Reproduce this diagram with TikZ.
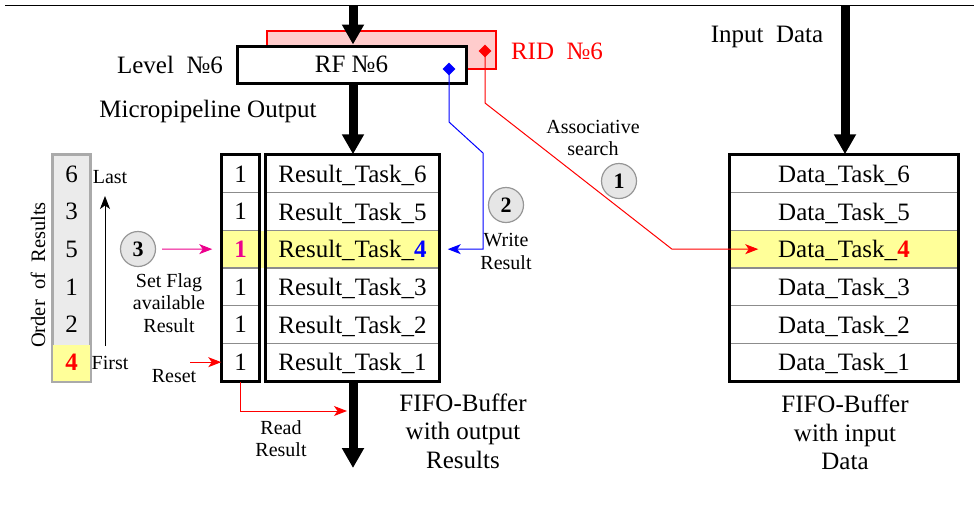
\documentclass[tikz,border=0pt]{standalone}
\usepackage{fontspec}
\setmainfont{Liberation Serif}
\usetikzlibrary{arrows.meta,shapes.geometric,calc}
\definecolor{hlyellow}{RGB}{255,255,153}
\definecolor{ridfill}{RGB}{255,204,204}
\definecolor{cgray}{RGB}{230,230,230}
\definecolor{cborder}{RGB}{150,150,150}
\definecolor{sepgray}{RGB}{140,140,140}
\definecolor{ordfill}{RGB}{235,235,235}
\definecolor{ordborder}{RGB}{170,170,170}
\begin{document}
\begin{tikzpicture}[x=1pt,y=-1pt,
  font=\fontsize{25}{29}\selectfont,
  oneline/.style={text depth=0pt},
  small/.style={font=\fontsize{20}{22.5}\selectfont, align=center},
  captext/.style={font=\fontsize{25}{28.5}\selectfont, align=center},
  cellbase/.style={draw=sepgray, line width=1.5pt, minimum height=37.67pt, inner sep=0pt, text depth=0pt},
  fcell/.style={cellbase, minimum width=37pt},
  rcell/.style={cellbase, minimum width=173pt},
  dcell/.style={cellbase, minimum width=228pt},
  outer/.style={draw=black, line width=3pt},
  bigarrow/.style={line width=9pt, -{Triangle[width=21pt,length=20pt]}},
  thinarrow/.style={line width=1pt, -{Stealth[length=13pt,width=10pt,inset=3.5pt]}},
  circ/.style={circle, draw=cborder, fill=cgray, line width=1.2pt, minimum size=35pt, inner sep=0pt, font=\fontsize{22}{24}\selectfont\bfseries},
  dmd/.style={diamond, minimum size=13pt, inner sep=0pt}
]
\useasboundingbox (0,0) rectangle (975,515);

% top line
\draw[line width=1pt] (5,5) -- (974,5);

% RID and RF boxes
\node[draw=red, line width=2pt, fill=ridfill, minimum width=229pt, minimum height=38pt] (rid) at (381.5,50) {};
\node[outer, oneline, fill=white, minimum width=229pt, minimum height=37pt] (rf) at (351.5,64.5) {RF №6};
\node[dmd, fill=red] (rd) at (485,51) {};
\node[dmd, fill=blue] (bd) at (449,69) {};
\node[oneline, text=red] (ridt) at (557,51) {RID~~№6};
\node[oneline] (lvl) at (170,65) {Level~~№6};
\node[oneline] (mpo) at (208,109) {Micropipeline Output};
\node[oneline] (ind) at (767,34) {Input~~Data};

% result FIFO
\foreach \i/\y in {6/173.83,5/211.5,3/286.83,2/324.5,1/362.17}{
  \node[fcell] (f\i) at (240.5,\y) {1};
  \node[rcell] (r\i) at (352.5,\y) {Result\_Task\_\i};
  \node[dcell] (d\i) at (844,\y) {Data\_Task\_\i};
}
\fill[hlyellow] (222,230.5) rectangle (266,268);
\node[fcell, fill=hlyellow, text=magenta, font=\fontsize{25}{29}\selectfont\bfseries] (f4) at (240.5,249.17) {1};
\node[rcell, fill=hlyellow] (r4) at (352.5,249.17) {Result\_Task\_\textbf{\color{blue}4}};
\node[dcell, fill=hlyellow] (d4) at (844,249.17) {Data\_Task\_\textbf{\color{red}4}};
\draw[outer] (f6.north west) rectangle (f1.south east);
\draw[outer] (r6.north west) rectangle (r1.south east);
\draw[outer] (d6.north west) rectangle (d1.south east);

% order of results
\node[draw=ordborder, line width=2pt, fill=ordfill, minimum width=37pt, minimum height=226pt, inner sep=0pt] (ord) at (71.5,268) {};
\fill[hlyellow] ($(ord.south west)+(1,-1)$) rectangle ($(ord.south east)+(-1,-37)$);
\draw[draw=ordborder, line width=2pt] (ord.north west) rectangle (ord.south east);
\foreach \n/\y in {6/173.83,3/211.5,5/249.17,1/286.83,2/324.5}{
  \node[oneline] at (71.5,\y) {\n};
}
\node[oneline, text=red, font=\fontsize{25}{29}\selectfont\bfseries] (o4) at (71.5,362.17) {4};
\node[rotate=90, font=\fontsize{20.5}{24}\selectfont] (ordt) at (38,275) {Order~~of~~Results};
\node[small, oneline] (last) at (110,177) {Last};
\node[small, oneline] (first) at (110,363) {First};
\coordinate (upa) at (105,346);
\coordinate (upb) at (105,196);
\draw[thinarrow] (upa) -- (upb);

% thick arrows
\coordinate (topA) at (353,5);
\coordinate (topB) at (845,5);
\coordinate (botA) at (353,468);
\draw[bigarrow] (topA) -- (rf.north -| topA);
\draw[bigarrow] (rf.south -| topA) -- (r6.north -| topA);
\draw[bigarrow] (r1.south -| botA) -- (botA);
\draw[bigarrow] (topB) -- (d6.north -| topB);

% circles and labels
\node[circ] (c1) at (619,181) {1};
\node[circ] (c2) at (506,205) {2};
\node[circ] (c3) at (138,249) {3};
\node[small] (assoc) at (593,138) {Associative\\search};
\node[small] (wr) at (506,251.5) {Write\\Result};
\node[small] (sf) at (169,303) {Set Flag\\available\\Result};
\node[small, oneline] (rst) at (174,376) {Reset};
\node[small] (rr) at (281,438.5) {Read\\Result};
\node[captext] (fo) at (463,431) {FIFO-Buffer\\with output\\Results};
\node[captext] (fi) at (845,432.5) {FIFO-Buffer\\with input\\Data};

% connectors
\draw[blue, thinarrow] (bd.center) -- (449,122) -- (483,153) -- (483,249.17) -- ([xshift=8pt]r4.east);
\draw[red, thinarrow] (rd.center) -- (485,103) -- (672,249.17) -- ([xshift=29pt]d4.west);
\draw[magenta, thinarrow] ([xshift=6pt]c3.east) -- ([xshift=-9pt]f4.west);
\coordinate (rsA) at (190,362.17);
\draw[red, thinarrow] (rsA) -- (f1.west);
\draw[red, thinarrow] (f1.south) -- (240.5,411) -- (347,411);
\end{tikzpicture}
\end{document}
